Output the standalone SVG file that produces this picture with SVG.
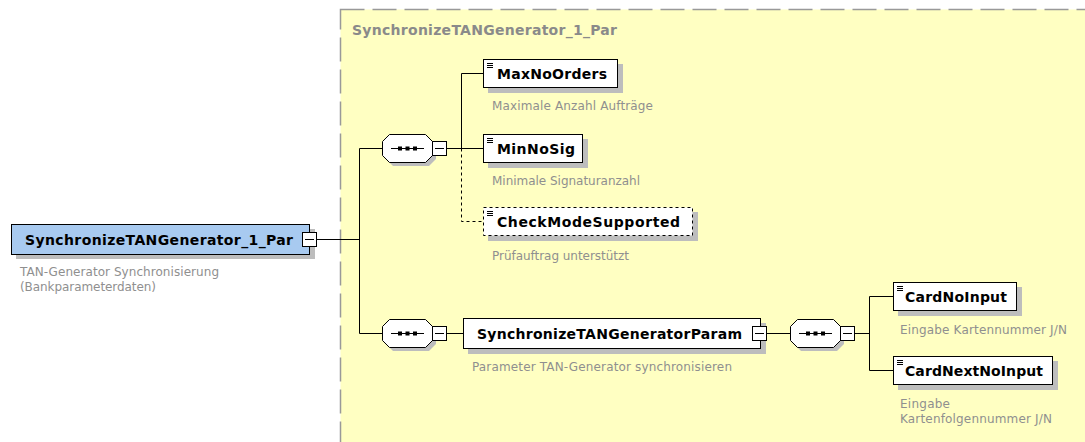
<svg xmlns="http://www.w3.org/2000/svg" width="1085" height="442" viewBox="0 0 1085 442">
<style>
.name{font-family:"DejaVu Sans",Verdana,sans-serif;font-weight:bold;font-size:14px;fill:#000}
.desc{font-family:"DejaVu Sans",Verdana,sans-serif;font-size:12px;fill:#8f8f8f}
.box{fill:#fff;stroke:#000;stroke-width:1}
.shadow{fill:#bdbdbd}
.line{fill:none;stroke:#000;stroke-width:1}
.dash{fill:none;stroke:#000;stroke-width:1;stroke-dasharray:3 3}
.icon{stroke:#000;stroke-width:1}
</style>
<defs>
<g id="seqicon">
<polygon class="shadow" points="11,4 47,4 54,11 54,25 47,32 11,32 4,25 4,11"/>
<polygon class="box" points="7.5,0.5 43.5,0.5 50.5,7.5 50.5,21.5 43.5,28.5 7.5,28.5 0.5,21.5 0.5,7.5"/>
<line class="icon" x1="9" y1="14.5" x2="42" y2="14.5"/>
<rect x="16" y="12.5" width="4" height="4" fill="#000"/>
<rect x="23.5" y="12.5" width="4" height="4" fill="#000"/>
<rect x="31" y="12.5" width="4" height="4" fill="#000"/>
</g>
<g id="minus">
<rect x="0.5" y="0.5" width="14" height="14" fill="#fff" stroke="#000"/>
<line x1="3" y1="7.5" x2="12" y2="7.5" stroke="#000"/>
</g>
<g id="elicon">
<line x1="3" y1="3.5" x2="9" y2="3.5" stroke="#000"/>
<line x1="3" y1="5.5" x2="9" y2="5.5" stroke="#000"/>
<line x1="3" y1="7.5" x2="9" y2="7.5" stroke="#000"/>
</g>
</defs>

<rect x="0" y="0" width="1085" height="442" fill="#fff"/>

<g id="container">
<rect x="340.5" y="9.5" width="760" height="450" fill="#ffffc2" stroke="#999" stroke-width="1.5" stroke-dasharray="24 8"/>
<text x="352" y="35" class="name" style="fill:#8a8a8a" textLength="265">SynchronizeTANGenerator_1_Par</text>
</g>

<g id="connectors">
<path class="line" d="M316.5 239.5 H359.5 M359.5 148.5 V333.5 M359.5 148.5 H382 M359.5 333.5 H382"/>
<path class="line" d="M446.5 148.5 H483.5 M461.5 73.5 V148.5 M461.5 73.5 H483.5"/>
<path class="dash" d="M461.5 148.5 V221.5 H483.5"/>
<path class="line" d="M446.5 333.5 H463.5 M766.5 333.5 H790 M854.5 333.5 H869.5 M869.5 296.5 V370.5 M869.5 296.5 H893.5 M869.5 370.5 H893.5"/>
</g>

<g id="root">
<rect class="shadow" x="16" y="229" width="299" height="30"/>
<rect x="11.5" y="224.5" width="298" height="30" fill="#a8caf0" stroke="#000"/>
<text x="25" y="244.5" class="name" textLength="268">SynchronizeTANGenerator_1_Par</text>
<use href="#minus" x="302" y="232"/>
<text x="20" y="276" class="desc" textLength="199">TAN-Generator Synchronisierung</text>
<text x="20" y="291" class="desc" textLength="136">(Bankparameterdaten)</text>
</g>

<g id="seq1">
<use href="#seqicon" x="382" y="134"/>
<use href="#minus" x="432" y="141"/>
</g>

<g id="MaxNoOrders">
<rect class="shadow" x="488" y="64" width="135" height="29"/>
<rect class="box" x="483.5" y="59.5" width="134" height="28"/>
<use href="#elicon" x="484" y="60"/>
<text x="497" y="78.5" class="name" textLength="110">MaxNoOrders</text>
<text x="492" y="110" class="desc" textLength="161">Maximale Anzahl Aufträge</text>
</g>

<g id="MinNoSig">
<rect class="shadow" x="488" y="139" width="100" height="29"/>
<rect class="box" x="483.5" y="134.5" width="99" height="28"/>
<use href="#elicon" x="484" y="135"/>
<text x="497" y="153.5" class="name" textLength="78">MinNoSig</text>
<text x="492" y="185" class="desc" textLength="148">Minimale Signaturanzahl</text>
</g>

<g id="CheckModeSupported">
<rect class="shadow" x="488" y="212" width="210" height="29"/>
<rect x="483.5" y="207.5" width="209" height="28" fill="#fff" stroke="#000" stroke-dasharray="3 3"/>
<use href="#elicon" x="484" y="208"/>
<text x="497" y="226.5" class="name" textLength="183">CheckModeSupported</text>
<text x="492" y="260" class="desc" textLength="137">Prüfauftrag unterstützt</text>
</g>

<g id="seq2">
<use href="#seqicon" x="382" y="319"/>
<use href="#minus" x="432" y="326"/>
</g>

<g id="SynchronizeTANGeneratorParam">
<rect class="shadow" x="468" y="323" width="298" height="31"/>
<rect class="box" x="463.5" y="318.5" width="297" height="30"/>
<text x="477" y="338.5" class="name" textLength="265">SynchronizeTANGeneratorParam</text>
<use href="#minus" x="752" y="326"/>
<text x="472" y="371" class="desc" textLength="260">Parameter TAN-Generator synchronisieren</text>
</g>

<g id="seq3">
<use href="#seqicon" x="790" y="319"/>
<use href="#minus" x="840" y="326"/>
</g>

<g id="CardNoInput">
<rect class="shadow" x="898" y="287" width="124" height="29"/>
<rect class="box" x="893.5" y="282.5" width="123" height="28"/>
<use href="#elicon" x="894" y="283"/>
<text x="905" y="301.5" class="name" textLength="102">CardNoInput</text>
<text x="900" y="334" class="desc" textLength="167">Eingabe Kartennummer J/N</text>
</g>

<g id="CardNextNoInput">
<rect class="shadow" x="898" y="361" width="160" height="29"/>
<rect class="box" x="893.5" y="356.5" width="159" height="28"/>
<use href="#elicon" x="894" y="357"/>
<text x="905" y="375.5" class="name" textLength="138">CardNextNoInput</text>
<text x="900" y="408" class="desc" textLength="50">Eingabe</text>
<text x="900" y="423" class="desc" textLength="152">Kartenfolgennummer J/N</text>
</g>
</svg>
